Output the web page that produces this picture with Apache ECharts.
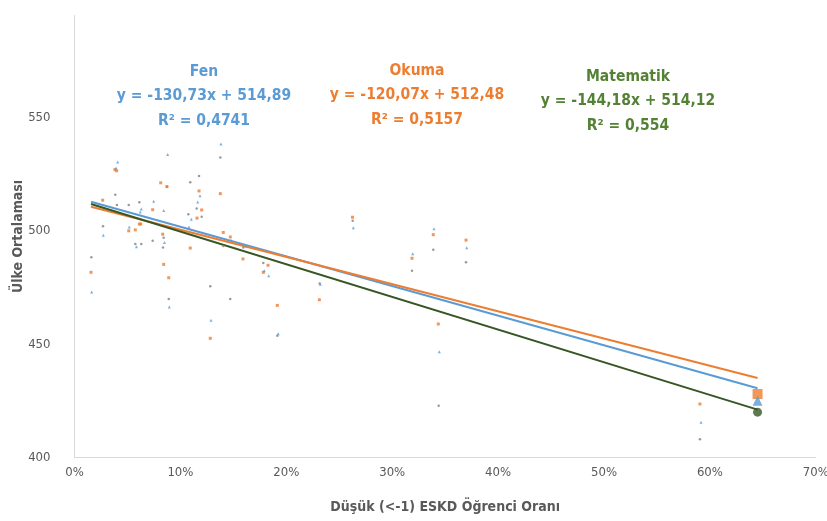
<!DOCTYPE html>
<html>
<head>
<meta charset="utf-8">
<script src="https://cdn.jsdelivr.net/npm/echarts@6/dist/echarts.min.js"></script>
<style>
html,body{margin:0;padding:0;background:#fff;}
#c{width:827px;height:521px;}
</style>
</head>
<body>
<div id="c"></div>
<script>
// Okuma (reading) – small orange squares
const okumaX = [0.0156,0.0266,0.0382,0.0398,0.0512,0.0574,0.0612,0.0625,0.0738,0.0814,0.0833,0.0842,0.0873,0.0890,0.1093,0.1157,0.1176,0.1201,0.1282,0.1377,0.1405,0.1471,0.1591,0.1827,0.1783,0.1915,0.2312,0.2625,0.3187,0.3388,0.3435,0.3697,0.5906];
const okumaY = [481.7,513.5,527.0,526.5,500.0,500.4,503.0,503.0,509.3,521.2,498.5,485.2,519.5,479.3,492.4,505.6,517.6,509.2,452.6,516.4,499.3,497.3,487.6,484.8,481.7,467.1,469.6,506.0,487.9,498.3,458.9,495.9,423.6];
// Fen (science) – small blue triangles
const fenX = [0.0162,0.0272,0.0392,0.0408,0.0517,0.0585,0.0631,0.0621,0.0748,0.0842,0.0850,0.0880,0.0895,0.1081,0.1103,0.1163,0.1185,0.1289,0.1383,0.1478,0.1620,0.1792,0.1834,0.1924,0.2321,0.2633,0.3194,0.3395,0.3445,0.3704,0.5916];
const fenY = [473.0,498.1,527.7,530.4,501.7,493.0,509.6,508.3,513.1,509.0,494.8,533.7,466.4,501.7,505.1,512.7,515.5,460.5,538.3,495.9,493.3,482.4,480.2,454.6,476.4,501.4,489.9,500.9,446.7,492.5,415.5];
// Matematik – small grey dots
const matX = [0.0159,0.0269,0.0385,0.0401,0.0512,0.0574,0.0612,0.0631,0.0738,0.0842,0.0836,0.0873,0.0890,0.1075,0.1093,0.1154,0.1176,0.1201,0.1282,0.1377,0.1405,0.1471,0.1594,0.1783,0.1915,0.2315,0.2627,0.3187,0.3388,0.3439,0.3697,0.5906];
const matY = [488.3,502.0,515.9,511.4,511.4,494.2,512.6,494.2,495.6,497.0,492.7,519.5,469.9,507.3,521.4,509.9,524.2,506.2,475.5,532.4,493.3,469.9,492.7,485.8,453.7,476.8,504.5,482.4,491.7,422.8,486.1,408.0];
// Türkiye (large markers)
const trX = 0.645;
const trFen = 425, trOkuma = 428, trMat = 420;
// Trend lines (from the equations shown)
const trendRange = [0.0156, 0.645];
const fenTrend = {slope:-130.73, intercept:514.89};
const okumaTrend = {slope:-120.07, intercept:512.48};
const matTrend = {slope:-144.18, intercept:514.12};
// Labels
const xTicks = [0,0.1,0.2,0.3,0.4,0.5,0.6,0.7];
const yTicks = [400,450,500,550];
const xTitle = 'Düşük (<-1) ESKD Öğrenci Oranı';
const yTitle = 'Ülke Ortalaması';
const fenLabel = ['Fen','y = -130,73x + 514,89','R² = 0,4741'];
const okumaLabel = ['Okuma','y = -120,07x + 512,48','R² = 0,5157'];
const matLabel = ['Matematik','y = -144,18x + 514,12','R² = 0,554'];

const font = "'Liberation Sans Narrow','DejaVu Sans Condensed','Liberation Sans',sans-serif";
const C_BLUE = '#5B9BD5', C_ORANGE = '#ED7D31', C_GREY = '#7F7F7F', C_GREEN = '#375623', C_GREEN_TXT = '#548235';

function pairs(xs, ys){ return xs.map((x,i)=>[x, ys[i]]); }
function trend(t){ return trendRange.map(x=>[x, t.slope*x + t.intercept]); }
function label(lines, x, y, color){
  return {type:'text', x:x, y:y, style:{text:lines.join('\n'), fill:color, font:"bold 15.5px "+font, align:'center', verticalAlign:'middle', lineHeight:24.5}};
}

const chart = echarts.init(document.getElementById('c'), null, {renderer:'canvas'});
chart.setOption({
  animation:false,
  backgroundColor:'#fff',
  grid:{left:74.5, right:11.2, top:15.5, bottom:63.5, containLabel:false, outerBoundsMode:'none'},
  xAxis:{
    type:'value', min:0, max:0.7, interval:0.1,
    axisLine:{show:true, lineStyle:{color:'#D9D9D9', width:1}},
    axisTick:{show:false}, splitLine:{show:false},
    axisLabel:{color:'#595959', fontSize:13, fontFamily:font, margin:9,
      formatter:v=>{ const i = xTicks.findIndex(t=>Math.abs(t-v)<1e-9); return i>=0 ? Math.round(xTicks[i]*100)+'%' : ''; }},
    name:xTitle, nameLocation:'middle', nameGap:43, nameMoveOverlap:false,
    nameTextStyle:{color:'#595959', fontSize:14, fontWeight:'bold', fontFamily:font}
  },
  yAxis:{
    type:'value', min:400, max:595, interval:50,
    axisLine:{show:true, lineStyle:{color:'#D9D9D9', width:1}},
    axisTick:{show:false}, splitLine:{show:false},
    axisLabel:{color:'#595959', fontSize:13, fontFamily:font, margin:24,
      formatter:v=> yTicks.indexOf(v)>=0 ? String(v) : ''},
    name:yTitle, nameLocation:'middle', nameGap:49, nameRotate:90, nameMoveOverlap:false,
    nameTextStyle:{color:'#595959', fontSize:14, fontWeight:'bold', fontFamily:font}
  },
  series:[
    {type:'line', data:trend(fenTrend), symbol:'none', lineStyle:{color:C_BLUE, width:2}, z:2},
    {type:'line', data:trend(okumaTrend), symbol:'none', lineStyle:{color:C_ORANGE, width:2}, z:2},
    {type:'line', data:trend(matTrend), symbol:'none', lineStyle:{color:C_GREEN, width:2}, z:2},
    {type:'scatter', data:pairs(matX, matY), symbol:'circle', symbolSize:2.5, itemStyle:{color:C_GREY}, z:3},
    {type:'scatter', data:pairs(okumaX, okumaY), symbol:'rect', symbolSize:3, itemStyle:{color:C_ORANGE}, z:3},
    {type:'scatter', data:pairs(fenX, fenY), symbol:'triangle', symbolSize:3, itemStyle:{color:C_BLUE}, z:3},
    {type:'scatter', data:[[trX, trOkuma]], symbol:'rect', symbolSize:10, itemStyle:{color:C_ORANGE}, z:4},
    {type:'scatter', data:[[trX, trFen]], symbol:'triangle', symbolSize:10, itemStyle:{color:C_BLUE}, z:4},
    {type:'scatter', data:[[trX, trMat]], symbol:'circle', symbolSize:9, itemStyle:{color:C_GREEN}, z:4}
  ],
  graphic:[
    label(fenLabel, 204, 96, C_BLUE),
    label(okumaLabel, 417, 95, C_ORANGE),
    label(matLabel, 628, 101, C_GREEN_TXT)
  ]
});
</script>
</body>
</html>
